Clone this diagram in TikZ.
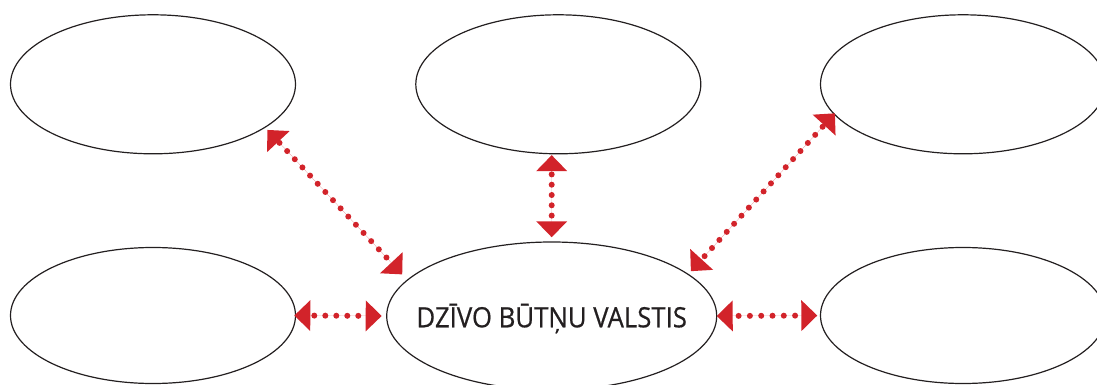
\documentclass[tikz,border=0pt]{standalone}
\usepackage{fontspec}
\setmainfont{Open Sans}
\newfontfamily\labelfont{Open Sans}[FakeBold=0.6]
\usetikzlibrary{shapes.geometric,arrows.meta}
\definecolor{ink}{RGB}{35,31,32}
\definecolor{arrred}{RGB}{210,35,42}
\begin{document}
\begin{tikzpicture}[x=1pt,y=-1pt,
  oval/.style={ellipse,draw=ink,line width=1.2pt,inner sep=0pt,outer sep=0pt},
  smalloval/.style={oval,minimum width=285pt,minimum height=139pt},
  lowoval/.style={oval,minimum width=285pt,minimum height=136pt},
  link/.style={draw=arrred,fill=arrred,line width=6pt,line cap=round,
    {Triangle[length=16pt,width=30pt]}-{Triangle[length=16pt,width=30pt]}}]
\useasboundingbox (0,0) rectangle (1097,385);
\node[smalloval] (tl) at (153,84.3) {};
\node[smalloval] (tm) at (558.3,84.3) {};
\node[smalloval] (tr) at (963,84.3) {};
\node[lowoval] (bl) at (153,315.5) {};
\node[lowoval] (br) at (963,315.5) {};
\node[oval,minimum width=330pt,minimum height=148pt,text height=22.6pt,text depth=0pt,
  font=\labelfont\fontsize{28pt}{28pt}\selectfont,text=ink] (bc) at (551.7,316)
  {\makebox[0pt][c]{\scalebox{0.92}[1]{DZĪVO BŪTŅU VALSTIS}}};
\draw[link,dash=on 0pt off 11pt phase 6pt,shorten <=-1.2pt,shorten >=5pt] (bl.east) -- (bc.west);
\draw[link,dash=on 0pt off 11.3pt phase 4.4pt,shorten >=3.2pt] (bc.east) -- (br.west);
\draw[link,dash=on 0pt off 10.3pt phase 6pt,shorten <=1.3pt,shorten >=4.7pt] (tm.south -| bc.north) -- (bc.north);
\draw[link,dash=on 0pt off 11.2pt phase 8.5pt,shorten <=3.6pt,shorten >=7.7pt] (tl.-21.8) -- (bc.166.6);
\draw[link,dash=on 0pt off 10.94pt phase 5.5pt,shorten <=4.2pt,shorten >=-1pt] (bc.17.3) -- (tr.193.4);
\end{tikzpicture}
\end{document}
